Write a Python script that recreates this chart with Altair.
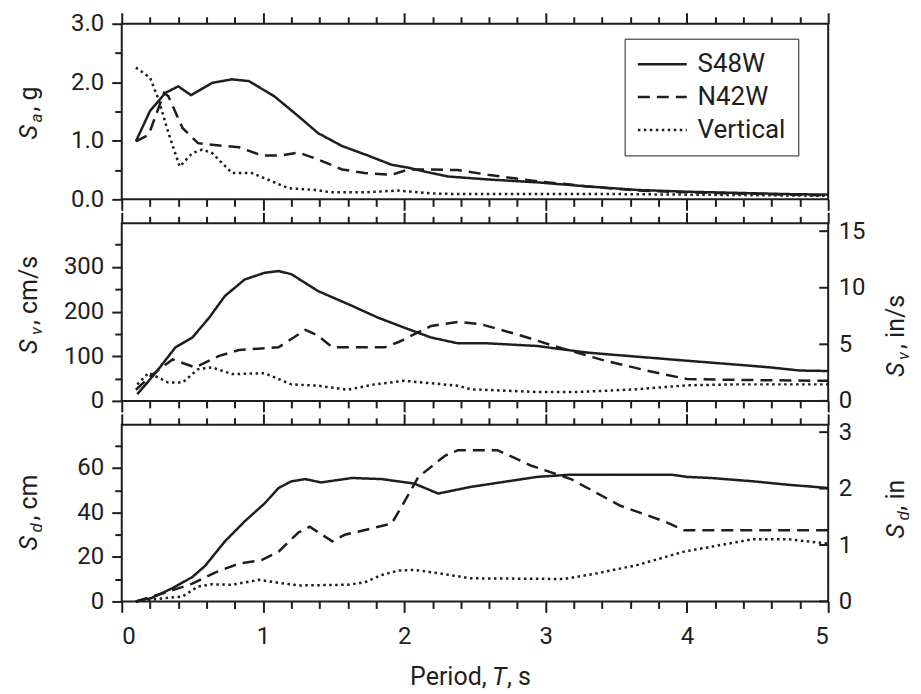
import altair as alt
import pandas as pd

FONT = "Roboto"
INK = "#1e1e1e"

SERIES = ["S48W", "N42W", "Vertical"]
DASHES = [[1, 0], [12, 7], [2.5, 3.5]]

X_TICKS = [0, 0.2, 0.4, 0.6, 0.8, 1, 1.2, 1.4, 1.6, 1.8, 2, 2.2, 2.4, 2.6, 2.8, 3,
           3.2, 3.4, 3.6, 3.8, 4, 4.2, 4.4, 4.6, 4.8, 5]
SA_TICKS = [0, 0.5, 1.0, 1.5, 2.0, 2.5, 3.0]
SV_TICKS = [0, 50, 100, 150, 200, 250, 300, 350]
SD_TICKS = [0, 10, 20, 30, 40, 50, 60, 70]
SV_IN_TICKS = [0, 5, 10, 15]
SD_IN_TICKS = [0, 1, 2, 3]

SA_TOP = 3.0
SV_TOP = 398
SV_TOP_IN = 15.7
SD_TOP = 79.4
SD_TOP_IN = 3.13

# ---- Spectral acceleration, g ----
sa_s48w_T = [0.10, 0.20, 0.31, 0.40, 0.49, 0.64, 0.78, 0.90, 1.08, 1.25, 1.39, 1.56, 1.74,
             1.91, 2.03, 2.17, 2.31, 2.59, 2.94, 3.30, 3.65, 4.00, 4.36, 4.70, 5.00]
sa_s48w = [0.99, 1.51, 1.82, 1.93, 1.78, 1.99, 2.05, 2.02, 1.76, 1.42, 1.13, 0.91, 0.75,
           0.59, 0.54, 0.46, 0.39, 0.34, 0.29, 0.22, 0.16, 0.13, 0.11, 0.09, 0.08]
sa_n42w_T = [0.10, 0.19, 0.30, 0.33, 0.43, 0.54, 0.73, 0.83, 0.99, 1.13, 1.25, 1.39, 1.56,
             1.72, 1.91, 2.03, 2.19, 2.38, 2.59, 2.94, 3.30, 3.65, 4.00, 4.36, 4.70, 5.00]
sa_n42w = [0.99, 1.10, 1.82, 1.76, 1.22, 0.96, 0.91, 0.89, 0.75, 0.75, 0.80, 0.68, 0.51,
           0.45, 0.42, 0.51, 0.51, 0.50, 0.42, 0.31, 0.22, 0.15, 0.12, 0.10, 0.08, 0.07]
sa_vert_T = [0.10, 0.20, 0.26, 0.33, 0.41, 0.50, 0.57, 0.64, 0.78, 0.92, 1.01, 1.18, 1.37,
             1.48, 1.72, 1.96, 2.19, 2.38, 3.00, 3.50, 4.00, 4.50, 5.00]
sa_vert = [2.25, 2.08, 1.71, 1.14, 0.56, 0.79, 0.85, 0.79, 0.45, 0.45, 0.36, 0.19, 0.16,
           0.12, 0.12, 0.15, 0.10, 0.09, 0.09, 0.09, 0.08, 0.07, 0.06]

# ---- Spectral velocity, cm/s ----
sv_s48w_T = [0.11, 0.24, 0.38, 0.50, 0.62, 0.73, 0.87, 1.01, 1.11, 1.20, 1.39, 1.63, 1.81,
             2.00, 2.19, 2.38, 2.59, 2.94, 3.30, 3.65, 4.00, 4.36, 4.59, 4.80, 5.00]
sv_s48w = [15, 63, 120, 142, 187, 235, 272, 287, 291, 284, 246, 213, 187,
           164, 142, 129, 129, 123, 108, 99, 90, 81, 75, 68, 67]
sv_n42w_T = [0.10, 0.22, 0.36, 0.52, 0.69, 0.83, 1.11, 1.30, 1.39, 1.49, 1.86, 1.96, 2.19,
             2.38, 2.54, 2.83, 3.06, 3.42, 3.77, 4.00, 4.36, 5.00]
sv_n42w = [25, 60, 93, 75, 101, 114, 120, 159, 146, 120, 120, 132, 168,
           177, 172, 146, 123, 90, 64, 49, 47, 45]
sv_vert_T = [0.11, 0.19, 0.33, 0.43, 0.54, 0.64, 0.78, 1.01, 1.20, 1.39, 1.60, 1.79, 2.00,
             2.38, 2.47, 2.94, 3.23, 3.65, 4.00, 4.36, 5.00]
sv_vert = [37, 63, 41, 41, 71, 75, 60, 62, 37, 34, 25, 37, 45,
           34, 26, 20, 20, 26, 35, 37, 37]

# ---- Spectral displacement, cm ----
sd_s48w_T = [0.10, 0.21, 0.36, 0.50, 0.59, 0.73, 0.87, 1.01, 1.11, 1.20, 1.30, 1.41, 1.63,
             1.84, 2.07, 2.24, 2.47, 2.94, 3.18, 3.89, 4.00, 4.17, 4.47, 4.71, 5.00]
sd_s48w = [0, 1.5, 6, 11, 16, 27, 36, 44, 51, 54, 55, 53.5, 55.5,
           55, 53, 48.5, 51.5, 56, 57, 57, 56, 55.5, 54, 52.5, 51]
sd_n42w_T = [0.10, 0.31, 0.50, 0.66, 0.83, 0.99, 1.11, 1.25, 1.33, 1.49, 1.58, 1.91, 1.98,
             2.10, 2.29, 2.38, 2.66, 2.90, 3.18, 3.53, 3.84, 3.98, 5.00]
sd_n42w = [0, 4, 8, 13, 17, 18.6, 22.4, 31, 33.6, 27, 30, 35, 42.5,
           56, 65.6, 68, 68, 61, 55, 43, 36, 32, 32]
sd_vert_T = [0.10, 0.31, 0.43, 0.54, 0.64, 0.78, 0.97, 1.13, 1.25, 1.60, 1.72, 1.84, 1.96,
             2.07, 2.24, 2.47, 3.13, 3.37, 3.65, 3.98, 4.24, 4.47, 4.71, 5.00]
sd_vert = [0, 1.5, 2.2, 6.7, 7.7, 7.5, 9.7, 8.2, 7.2, 7.5, 8.6, 11.9, 13.9,
           14.2, 12.7, 10.4, 10.1, 12.7, 16.4, 22.4, 25.4, 28, 28, 26]

W = 708
H_TOP, H_MID, H_BOT = 176, 178, 177


def long_df(parts):
    rows = []
    for name, ts, vs in parts:
        for t, v in zip(ts, vs):
            rows.append({"T": t, "val": v, "series": name})
    return pd.DataFrame(rows)


def x_axis(orient, labels):
    return alt.Axis(
        orient=orient, values=X_TICKS, labels=labels,
        labelExpr="datum.value % 1 === 0 ? format(datum.value, 'd') : ''",
        tickSize={"condition": {"test": "datum.value % 1 === 0", "value": 11}, "value": 7},
        tickColor=INK, tickWidth=2, domain=False, grid=False, title=None,
        labelFont=FONT, labelFontSize=24, labelColor=INK, labelPadding=12,
    )


def y_axis(values, major, fmt):
    return alt.Axis(
        orient="left", values=values,
        labelExpr=f"datum.value % {major} === 0 ? format(datum.value, '{fmt}') : ''",
        tickSize={"condition": {"test": f"datum.value % {major} === 0", "value": 10}, "value": 7},
        tickColor=INK, tickWidth=2, domain=False, grid=False, title=None,
        labelFont=FONT, labelFontSize=24, labelColor=INK, labelPadding=8,
    )


def txt(s, x, y, size=25, italic=False, angle=270):
    return alt.Chart(pd.DataFrame({"s": [s]})).mark_text(
        text=s, angle=angle, align="left", baseline="alphabetic", font=FONT,
        fontSize=size, fontStyle="italic" if italic else "normal", color=INK,
    ).encode(x=alt.value(x), y=alt.value(y))


def lines(df, top, axis, legend):
    dash = alt.StrokeDash(
        "series:N", scale=alt.Scale(domain=SERIES, range=DASHES), legend=legend
    )
    return alt.Chart(df).mark_line(strokeWidth=2.5, color=INK, strokeCap="butt").encode(
        x=alt.X("T:Q", scale=alt.Scale(domain=[0, 5], nice=False),
                axis=x_axis("bottom", False)),
        y=alt.Y("val:Q", scale=alt.Scale(domain=[0, top], nice=False, zero=True), axis=axis),
        strokeDash=dash,
        order=alt.Order("T:Q"),
    )


def top_axis_layer():
    return alt.Chart(pd.DataFrame({"T": X_TICKS})).mark_point(opacity=0).encode(
        x=alt.X("T:Q", scale=alt.Scale(domain=[0, 5], nice=False), axis=x_axis("top", False)),
        y=alt.value(0),
    )


def right_axis_layer(ticks, top):
    return alt.Chart(pd.DataFrame({"v": ticks})).mark_rule(color=INK, strokeWidth=2).encode(
        y=alt.Y("v:Q", scale=alt.Scale(domain=[0, top], nice=False),
                axis=alt.Axis(orient="right", values=ticks, ticks=False, domain=False,
                              grid=False, title=None, labelFont=FONT, labelFontSize=24,
                              labelColor=INK, labelPadding=10)),
        x=alt.value(W - 9),
        x2=alt.value(W),
    )


legend = alt.Legend(
    title=None, orient="none", legendX=504, legendY=15,
    symbolType="M-1,0L3,0", symbolSize=600, symbolStrokeWidth=2.5, symbolStrokeColor=INK,
    labelFont=FONT, labelFontSize=26, labelColor=INK, labelOffset=34,
    rowPadding=6, padding=12, strokeColor=INK, fillColor="white", cornerRadius=0,
    labelLimit=200,
)

df_sa = long_df([("S48W", sa_s48w_T, sa_s48w), ("N42W", sa_n42w_T, sa_n42w),
                 ("Vertical", sa_vert_T, sa_vert)])
df_sv = long_df([("S48W", sv_s48w_T, sv_s48w), ("N42W", sv_n42w_T, sv_n42w),
                 ("Vertical", sv_vert_T, sv_vert)])
df_sd = long_df([("S48W", sd_s48w_T, sd_s48w), ("N42W", sd_n42w_T, sd_n42w),
                 ("Vertical", sd_vert_T, sd_vert)])

top = alt.layer(
    lines(df_sa, SA_TOP, y_axis(SA_TICKS, 1, ".1f"), legend),
    top_axis_layer(),
    txt("S", -85, 116, italic=True),
    txt("a", -80, 99, size=17, italic=True),
    txt(", g", -85, 88),
).resolve_axis(x="independent").properties(width=W, height=H_TOP)

mid = alt.layer(
    lines(df_sv, SV_TOP, y_axis(SV_TICKS, 100, "d"), None),
    right_axis_layer(SV_IN_TICKS, SV_TOP_IN),
    top_axis_layer(),
    txt("S", -85, 131, italic=True),
    txt("v", -80, 112, size=17, italic=True),
    txt(", cm/s", -85, 102),
    txt("S", 784, 154, italic=True),
    txt("v", 789, 137, size=17, italic=True),
    txt(", in/s", 784, 126),
).resolve_scale(y="independent").resolve_axis(x="independent", y="independent").properties(
    width=W, height=H_MID)

bot_lines = lines(df_sd, SD_TOP, y_axis(SD_TICKS, 20, "d"), None).encode(
    x=alt.X("T:Q", scale=alt.Scale(domain=[0, 5], nice=False), axis=x_axis("bottom", True))
)

bot = alt.layer(
    bot_lines,
    right_axis_layer(SD_IN_TICKS, SD_TOP_IN),
    top_axis_layer(),
    txt("S", -85, 126, italic=True),
    txt("d", -80, 108, size=17, italic=True),
    txt(", cm", -85, 96),
    txt("S", 784, 114, italic=True),
    txt("d", 789, 96, size=17, italic=True),
    txt(", in", 784, 86),
    txt("Period,", 289, 261, angle=0),
    txt("T", 371, 261, italic=True, angle=0),
    txt(", s", 386, 261, angle=0),
).resolve_scale(y="independent").resolve_axis(x="independent", y="independent").properties(
    width=W, height=H_BOT)

chart = alt.vconcat(top, mid, bot, spacing=24, bounds="flush").resolve_scale(
    strokeDash="independent"
).resolve_legend(strokeDash="independent").configure_view(
    stroke=INK, strokeWidth=2
).properties(
    padding={"left": 8, "top": 2, "right": 0, "bottom": 0}, background="white"
)

chart.save("out.html", embed_options={"renderer": "svg", "actions": False})
